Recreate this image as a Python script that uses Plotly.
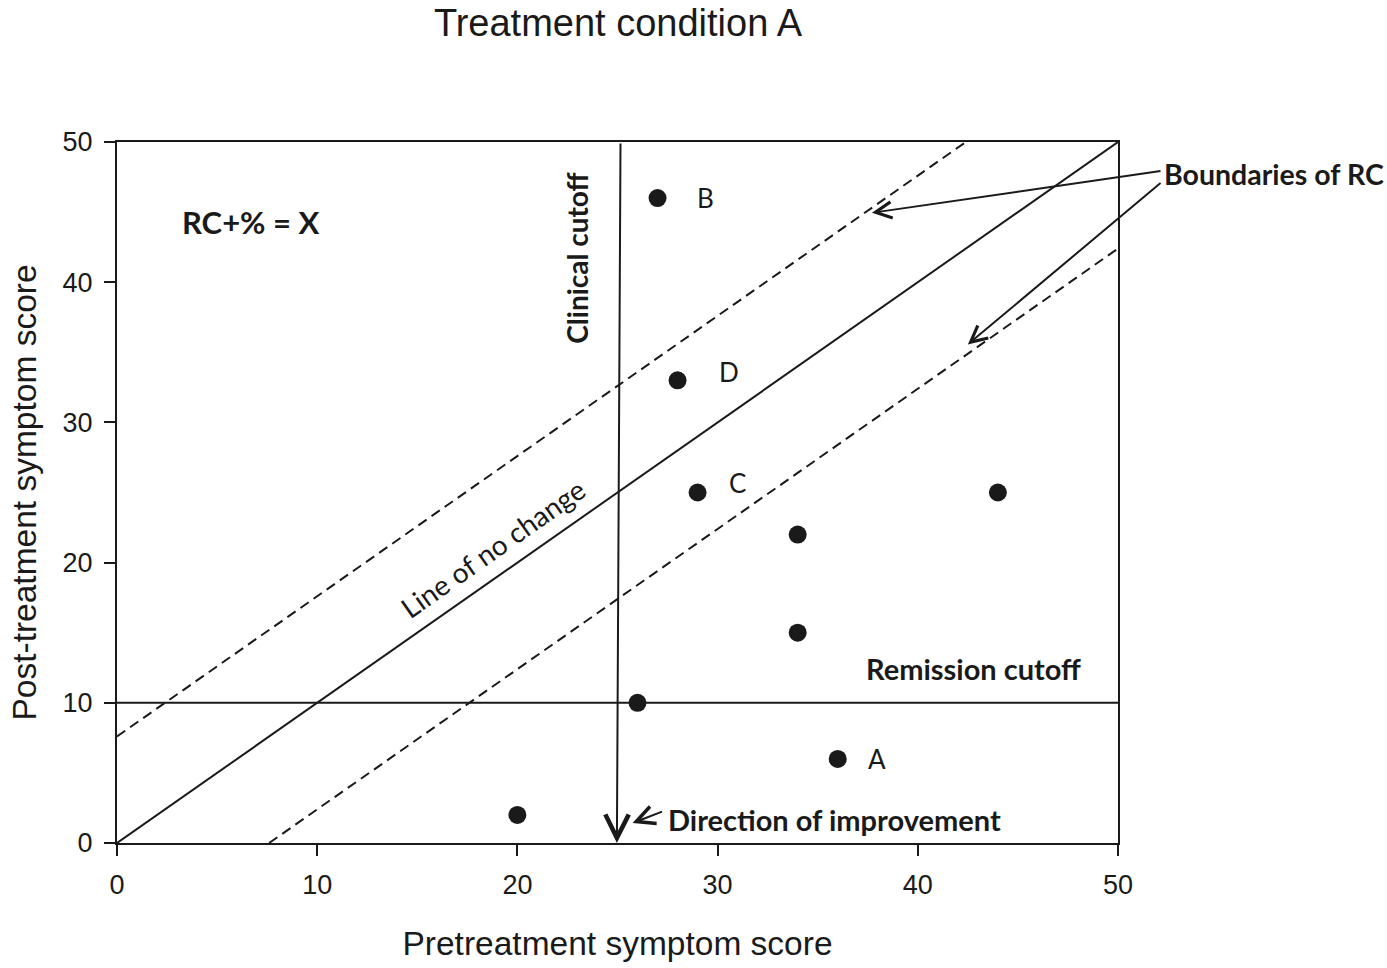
import plotly.graph_objects as go

# ---- data ----
pre_scores = [27, 28, 29, 34, 44, 34, 26, 36, 20]
post_scores = [46, 33, 25, 22, 25, 15, 10, 6, 2]
point_labels = ["B", "D", "C", "", "", "", "", "A", ""]

axis_range = [0, 50]
tick_vals = [0, 10, 20, 30, 40, 50]
rc_boundary = 7.6          # half-width of reliable change band
remission_cutoff = 10
clinical_cutoff_top = 25.15
clinical_cutoff_bottom = 24.97

TEXT_FONT = "Lato"
AX_FONT = "Liberation Sans"
INK = "#1a1a1a"

fig = go.Figure()

# line of no change
fig.add_trace(go.Scatter(x=axis_range, y=axis_range, mode="lines",
                         line=dict(color=INK, width=2), hoverinfo="skip"))
# RC boundaries
up_x = [0, axis_range[1] - rc_boundary]
fig.add_trace(go.Scatter(x=up_x, y=[v + rc_boundary for v in up_x], mode="lines",
                         line=dict(color=INK, width=2, dash="10px,6px"), hoverinfo="skip"))
lo_x = [rc_boundary, axis_range[1]]
fig.add_trace(go.Scatter(x=lo_x, y=[v - rc_boundary for v in lo_x], mode="lines",
                         line=dict(color=INK, width=2, dash="10px,6px"), hoverinfo="skip"))
# remission cutoff
fig.add_trace(go.Scatter(x=axis_range, y=[remission_cutoff, remission_cutoff], mode="lines",
                         line=dict(color=INK, width=2), hoverinfo="skip"))
# points
fig.add_trace(go.Scatter(x=pre_scores, y=post_scores, mode="markers",
                         marker=dict(color=INK, size=18), hoverinfo="skip"))

annotations = []
label_shift = {"B": (37, 0), "D": (39, 8), "C": (29, 10), "A": (28, 0)}
for xv, yv, lab in zip(pre_scores, post_scores, point_labels):
    if lab:
        dx, dy = label_shift[lab]
        annotations.append(dict(x=xv, y=yv, xref="x", yref="y", text=lab, showarrow=False,
                                xanchor="left", yanchor="middle", xshift=dx, yshift=dy,
                                font=dict(family=TEXT_FONT, size=26, color=INK)))

# clinical cutoff arrow
annotations.append(dict(x=clinical_cutoff_bottom, y=0, ax=clinical_cutoff_top, ay=50,
                        xref="x", yref="y", axref="x", ayref="y", text="", showarrow=True,
                        arrowhead=5, arrowsize=2.3, arrowwidth=2, arrowcolor=INK))
# boundaries of RC arrows
annotations.append(dict(x=37.71, y=44.95, ax=52.2, ay=47.94,
                        xref="x", yref="y", axref="x", ayref="y", text="", showarrow=True,
                        arrowhead=5, arrowsize=1.6, arrowwidth=2, arrowcolor=INK))
annotations.append(dict(x=42.5, y=35.56, ax=52.2, ay=47.16,
                        xref="x", yref="y", axref="x", ayref="y", text="", showarrow=True,
                        arrowhead=5, arrowsize=1.6, arrowwidth=2, arrowcolor=INK))
# direction of improvement arrow
annotations.append(dict(x=25.75, y=1.42, ax=27.3, ay=2.28,
                        xref="x", yref="y", axref="x", ayref="y", text="", showarrow=True,
                        arrowhead=5, arrowsize=1.8, arrowwidth=2, arrowcolor=INK))

annotations += [
    dict(x=6.69, y=44.31, xref="x", yref="y", text="<b>RC+% = X</b>", showarrow=False,
         font=dict(family=TEXT_FONT, size=31, color=INK)),
    dict(x=22.98, y=41.68, xref="x", yref="y", text="<b>Clinical cutoff</b>", showarrow=False,
         textangle=-90, font=dict(family=TEXT_FONT, size=28, color=INK)),
    dict(x=42.78, y=12.45, xref="x", yref="y", text="<b>Remission cutoff</b>", showarrow=False,
         font=dict(family=TEXT_FONT, size=29, color=INK)),
    dict(x=35.84, y=1.71, xref="x", yref="y", text="<b>Direction of improvement</b>", showarrow=False,
         font=dict(family=TEXT_FONT, size=29, color=INK)),
    dict(x=1.044, y=0.9545, xref="paper", yref="paper", text="<b>Boundaries of RC</b>",
         showarrow=False, xanchor="left", yanchor="middle",
         font=dict(family=TEXT_FONT, size=28.5, color=INK)),
    dict(x=18.78, y=21.05, xref="x", yref="y", text="Line of no change", showarrow=False,
         textangle=-35.1, font=dict(family=TEXT_FONT, size=28, color=INK)),
]

axis_common = dict(range=axis_range, tickvals=tick_vals, showline=True, linecolor=INK,
                   linewidth=2, mirror=True, ticks="outside", ticklen=11, tickwidth=2,
                   tickcolor=INK, showgrid=False, zeroline=False, ticklabelstandoff=6,
                   tickfont=dict(family=AX_FONT, size=27, color=INK))

W, H = 1387, 968
L, T = 117, 142
PW, PH = 1001, 703
fig.update_layout(
    width=W, height=H,
    margin=dict(l=L, r=W - L - PW, t=T, b=H - T - PH),
    plot_bgcolor="white", paper_bgcolor="white",
    showlegend=False,
    title=dict(text="Treatment condition A", x=618 / W, xanchor="center",
               y=1 - 9 / H, yanchor="top",
               font=dict(family=AX_FONT, size=38, color=INK)),
    xaxis=dict(**axis_common,
               title=dict(text="Pretreatment symptom score", standoff=32,
                          font=dict(family=AX_FONT, size=33.5, color=INK))),
    yaxis=dict(**axis_common,
               title=dict(text="Post-treatment symptom score", standoff=16,
                          font=dict(family=AX_FONT, size=33.5, color=INK))),
    annotations=annotations,
)

fig.write_html("out.html", config={"displayModeBar": False},
               post_script="document.body.style.margin='0';document.body.style.overflow='hidden';")
